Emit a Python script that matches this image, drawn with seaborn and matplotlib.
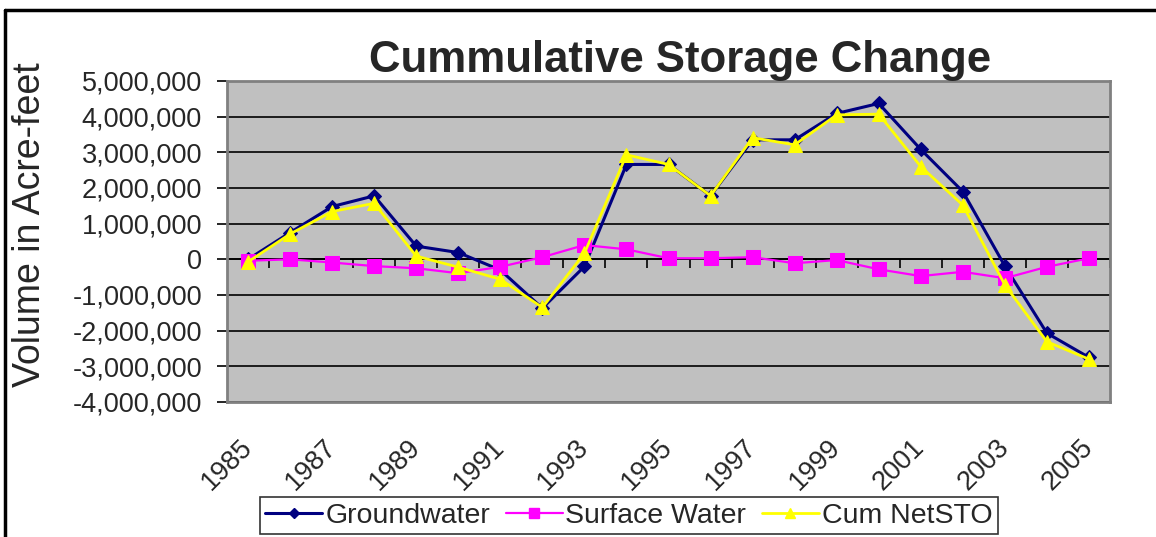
import matplotlib
matplotlib.use("Agg")
import matplotlib.pyplot as plt
import matplotlib.ticker as mticker
from matplotlib.lines import Line2D
import seaborn as sns
import pandas as pd
import numpy as np

years = list(range(1985, 2006))
groundwater = [0, 750000, 1480000, 1780000, 370000, 190000, -300000, -1370000,
               -200000, 2660000, 2660000, 1780000, 3350000, 3350000, 4090000,
               4370000, 3080000, 1900000, -190000, -2070000, -2750000]
surface_water = [-40000, 0, -90000, -190000, -250000, -390000, -210000, 60000,
                 400000, 280000, 30000, 30000, 60000, -110000, -20000, -280000,
                 -470000, -350000, -530000, -210000, 30000]
cum_netsto = [-70000, 710000, 1340000, 1570000, 90000, -220000, -560000, -1350000,
              170000, 2930000, 2660000, 1780000, 3410000, 3210000, 4050000,
              4070000, 2600000, 1520000, -720000, -2310000, -2800000]
series_names = ["Groundwater", "Surface Water", "Cum NetSTO"]
colors = ["#000080", "#FF00FF", "#FFFF00"]
markers = ["D", "s", "^"]
marker_sizes = [7, 10, 10]
line_widths = [2.2, 1.6, 2.0]

sns.set_theme(style="white")
plt.rcParams["font.family"] = ["Liberation Sans", "DejaVu Sans"]
plt.rcParams["axes.unicode_minus"] = False

df = pd.DataFrame({"Year": years, "Groundwater": groundwater,
                   "Surface Water": surface_water, "Cum NetSTO": cum_netsto})

fig = plt.figure(figsize=(11.56, 5.37), dpi=100)
ax = fig.add_axes([0.1964, 0.2514, 0.7638, 0.5978])
ax.set_facecolor("#C0C0C0")

for name, c, m, ms, lw in zip(series_names, colors, markers, marker_sizes, line_widths):
    sns.lineplot(data=df, x="Year", y=name, ax=ax, color=c, marker=m,
                 markersize=ms, markeredgecolor=c, linewidth=lw, label=name,
                 legend=False)

ax.set_xlim(years[0] - 0.5, years[-1] + 0.5)
ax.set_ylim(-4000000, 5000000)
ax.yaxis.set_major_locator(mticker.MultipleLocator(1000000))
ax.yaxis.set_major_formatter(mticker.FuncFormatter(lambda v, p: f"{v:,.0f}"))
ax.grid(axis="y", color="black", linewidth=1.2)
ax.set_axisbelow(True)

# category axis crossing at zero with ticks between categories
ax.axhline(0, color="black", linewidth=1.2, zorder=1.5)
ax.vlines(np.arange(years[0] - 0.5, years[-1] + 1), -250000, 0,
          color="black", linewidth=1.2, zorder=1.5)

ax.set_xticks(years[::2])
ax.set_xticklabels([str(y) for y in years[::2]], rotation=45, ha="right",
                   rotation_mode="anchor", va="center", fontsize=19.5)
ax.tick_params(axis="x", length=0, pad=30)
ax.tick_params(axis="y", left=True, length=7, width=1.2, color="black",
               labelsize=19.5, pad=11)
ax.set_xlabel("")
ax.set_ylabel("")

for s in ax.spines.values():
    s.set_color("#808080")
    s.set_linewidth(2)

fig.text(0.588, 0.888, "Cummulative Storage Change", ha="center", va="center",
         fontsize=31.5, fontweight="bold")
fig.text(0.026, 0.582, "Volume in Acre-feet", ha="center", va="center",
         rotation=90, fontsize=27)

handles = [Line2D([], [], color=c, marker=m, markersize=ms * 0.75, linewidth=lw,
                  markeredgecolor=c)
           for c, m, ms, lw in zip(colors, markers, marker_sizes, line_widths)]
leg = fig.legend(handles, series_names, loc="center", bbox_to_anchor=(0.544, 0.04),
                 ncol=3, fontsize=20.5, frameon=True, fancybox=False,
                 handlelength=2.0, handletextpad=0.1, columnspacing=0.55,
                 borderpad=0.2, borderaxespad=0)
leg.get_frame().set_edgecolor("black")
leg.get_frame().set_linewidth(1.2)

# outer chart frame (left and top edges visible)
fig.add_artist(Line2D([0.0045, 0.0045], [0, 0.982], color="black", linewidth=2.5,
                      transform=fig.transFigure))
fig.add_artist(Line2D([0.0045, 1], [0.982, 0.982], color="black", linewidth=2.5,
                      transform=fig.transFigure))

fig.savefig("out.png", dpi=100)
